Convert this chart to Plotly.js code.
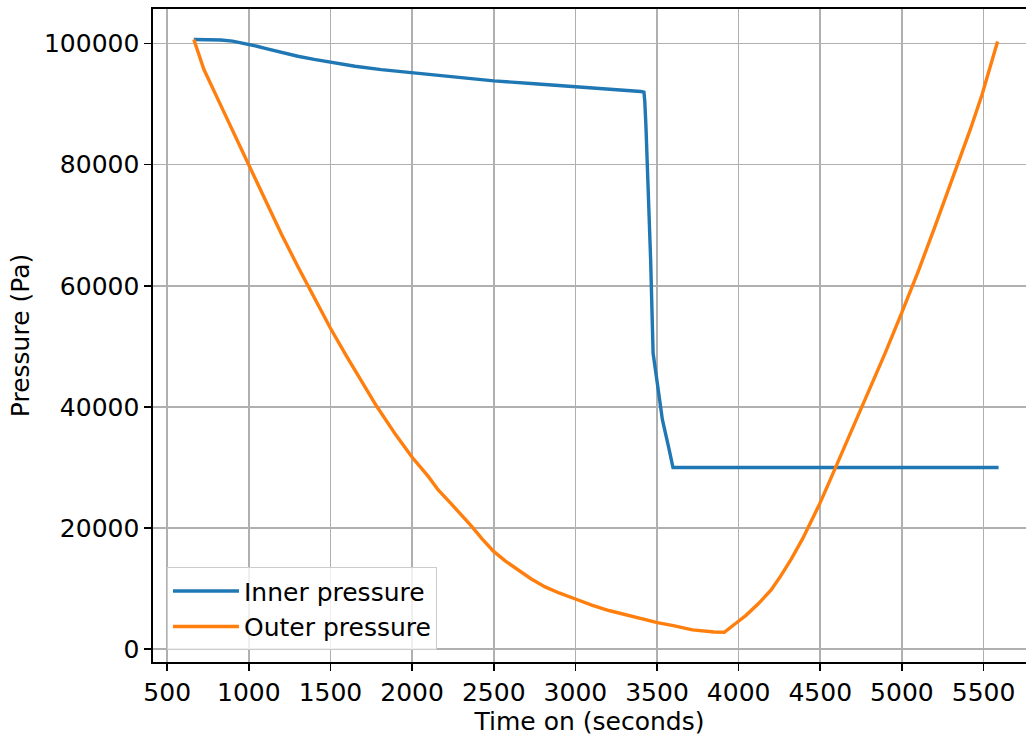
<!DOCTYPE html>
<html>
<head>
<meta charset="utf-8">
<script src="https://cdn.plot.ly/plotly-3.0.1.min.js"></script>
<style>
html, body { margin: 0; padding: 0; background: #ffffff; overflow: hidden; }
#chart { width: 1026px; height: 740px; }
</style>
</head>
<body>
<div id="chart"></div>
<script>
// Inner pressure (blue)
const innerTime = [663, 750, 828, 900, 950, 1000, 1050, 1100, 1200, 1300, 1400, 1504, 1650, 1811, 2000, 2250, 2500, 2750, 3000, 3200, 3400, 3420, 3425, 3432, 3440, 3461, 3476, 3502, 3533, 3570, 3598, 4000, 4500, 5000, 5592];
const innerPressure = [100660, 100640, 100590, 100400, 100150, 99870, 99550, 99200, 98500, 97900, 97380, 96860, 96250, 95700, 95210, 94500, 93840, 93350, 92900, 92500, 92070, 91980, 90500, 86500, 80800, 64300, 48900, 43400, 37900, 33500, 30000, 30000, 30000, 30000, 30000];

// Outer pressure (orange)
const outerTime = [663, 700, 725, 800, 900, 1000, 1100, 1200, 1300, 1400, 1500, 1600, 1700, 1781, 1900, 2000, 2100, 2160, 2230, 2300, 2365, 2430, 2498, 2570, 2652, 2730, 2815, 2900, 3000, 3100, 3205, 3350, 3502, 3600, 3717, 3850, 3912, 3983, 4045, 4120, 4199, 4260, 4322, 4393, 4450, 4496, 4550, 4598, 4700, 4773, 4850, 4896, 4998, 5100, 5200, 5336, 5420, 5490, 5586];
const outerPressure = [100660, 97600, 95700, 91400, 85700, 80000, 74200, 68500, 63200, 58000, 53000, 48300, 43800, 40200, 35400, 31700, 28500, 26300, 24300, 22300, 20300, 18200, 16200, 14600, 13000, 11600, 10300, 9300, 8300, 7300, 6400, 5400, 4400, 3900, 3200, 2850, 2800, 4300, 5600, 7500, 9800, 12200, 14900, 18300, 21400, 24000, 27300, 30300, 36600, 41000, 45900, 48800, 55500, 62400, 69600, 79500, 85900, 91500, 100330];

const xTicks = [500, 1000, 1500, 2000, 2500, 3000, 3500, 4000, 4500, 5000, 5500];
const yTicks = [0, 20000, 40000, 60000, 80000, 100000];

const font = { family: "DejaVu Sans, sans-serif", size: 25, color: "#000000" };

const traces = [
  { x: innerTime, y: innerPressure, name: "Inner pressure", type: "scatter", mode: "lines",
    line: { color: "#1f77b4", width: 3.4 } },
  { x: outerTime, y: outerPressure, name: "Outer pressure", type: "scatter", mode: "lines",
    line: { color: "#ff7f0e", width: 3.4 } }
];

const layout = {
  width: 1026, height: 740,
  margin: { l: 153, r: 0, t: 9, b: 78 },
  paper_bgcolor: "#ffffff", plot_bgcolor: "#ffffff",
  font: font,
  showlegend: true,
  legend: {
    x: 0.016, y: 0.018, xanchor: "left", yanchor: "bottom",
    bgcolor: "rgba(255,255,255,0.8)", bordercolor: "#cccccc", borderwidth: 1,
    font: font, tracegroupgap: 0, itemwidth: 66
  },
  xaxis: {
    range: [413, 5760],
    tickvals: xTicks, ticktext: xTicks.map(String),
    showgrid: true, gridcolor: "#b0b0b0", gridwidth: 1.6,
    showline: true, linecolor: "#000000", linewidth: 1.6, mirror: true,
    ticks: "outside", ticklen: 7, tickwidth: 1.6, tickcolor: "#000000",
    zeroline: false, tickfont: font,
    title: { text: "Time on (seconds)", font: font, standoff: 4 }
  },
  yaxis: {
    range: [-2100, 105700],
    tickvals: yTicks, ticktext: yTicks.map(String),
    showgrid: true, gridcolor: "#b0b0b0", gridwidth: 1.6,
    showline: true, linecolor: "#000000", linewidth: 1.6,
    ticks: "outside", ticklen: 7, tickwidth: 1.6, tickcolor: "#000000",
    zeroline: false, tickfont: font,
    title: { text: "Pressure (Pa)", font: font, standoff: 7 }
  }
};

Plotly.newPlot("chart", traces, layout, { staticPlot: true, displayModeBar: false });
</script>
</body>
</html>
